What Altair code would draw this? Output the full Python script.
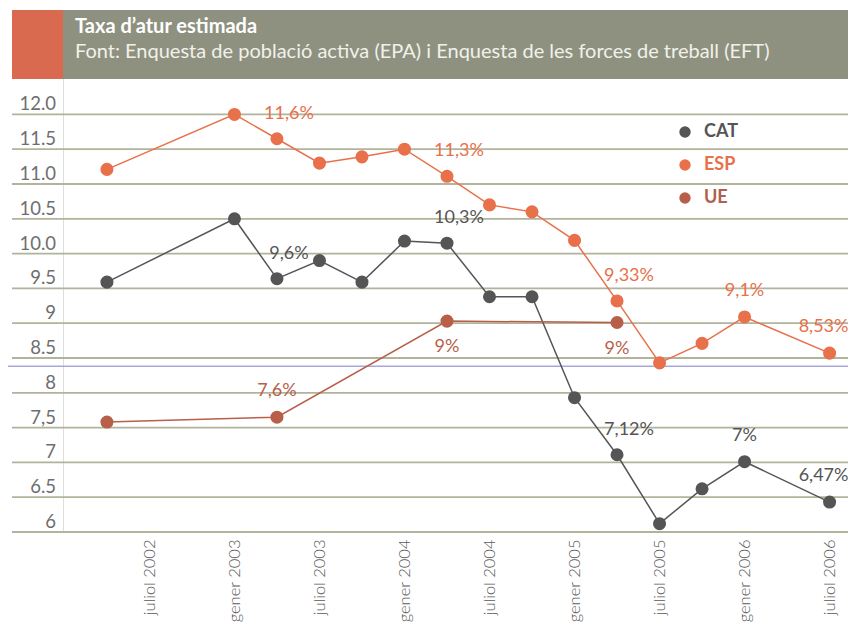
import altair as alt
import pandas as pd

# ---------------- data (x = months since January 2002) ----------------
months = [3, 12, 15, 18, 21, 24, 27, 30, 33, 36, 39, 42, 45, 48, 54]
cat_values = [9.59, 10.50, 9.64, 9.90, 9.59, 10.18, 10.15, 9.38, 9.38, 7.93, 7.11, 6.12, 6.62, 7.01, 6.43]
esp_values = [11.21, 12.00, 11.65, 11.30, 11.39, 11.50, 11.11, 10.70, 10.60, 10.19, 9.32, 8.43, 8.71, 9.09, 8.57]
ue_months = [3, 15, 27, 39]
ue_values = [7.58, 7.65, 9.03, 9.01]

series_names = ["CAT", "ESP", "UE"]
series_colors = ["#555555", "#e8704a", "#b85f4a"]

x_tick_months = [6, 12, 18, 24, 30, 36, 42, 48, 54]
x_tick_labels = ["juliol 2002", "gener 2003", "juliol 2003", "gener 2004", "juliol 2004",
                 "gener 2005", "juliol 2005", "gener 2006", "juliol 2006"]

y_grid_values = [12.0, 11.5, 11.0, 10.5, 10.0, 9.5, 9.0, 8.5, 8.0, 7.5, 7.0, 6.5, 6.0]
y_grid_labels = ["12.0", "11.5", "11.0", "10.5", "10.0", "9.5", "9", "8.5", "8", "7,5", "7", "6.5", "6"]

stray_line_value = [8.38]

labels_above_right = [("ESP", 15, "11,6%"), ("ESP", 27, "11,3%"), ("CAT", 15, "9,6%"),
                      ("CAT", 27, "10,3%"), ("ESP", 39, "9,33%"), ("CAT", 39, "7,12%")]
labels_above = [("ESP", 48, "9,1%"), ("CAT", 48, "7%"), ("UE", 15, "7,6%")]
labels_above_left = [("ESP", 54, "8,53%"), ("CAT", 54, "6,47%")]
labels_below = [("UE", 27, "9%"), ("UE", 39, "9%")]

title_text = "Taxa d’atur estimada"
subtitle_text = "Font: Enquesta de població activa (EPA) i Enquesta de les forces de treball (EFT)"

# ---------------- tables ----------------
rows = []
for m, v in zip(months, cat_values):
    rows.append({"series": "CAT", "month": m, "value": v})
for m, v in zip(months, esp_values):
    rows.append({"series": "ESP", "month": m, "value": v})
for m, v in zip(ue_months, ue_values):
    rows.append({"series": "UE", "month": m, "value": v})
df = pd.DataFrame(rows)
lookup = {(r["series"], r["month"]): r["value"] for r in rows}


def label_df(items):
    return pd.DataFrame([{"series": s, "month": m, "value": lookup[(s, m)], "text": t}
                         for s, m, t in items])


grid_df = pd.DataFrame({"value": y_grid_values, "label": y_grid_labels})
stray_df = pd.DataFrame({"value": stray_line_value})
one = pd.DataFrame({"k": [0]})

W, H = 785, 522
FONT = "Lato"

xscale = alt.Scale(domain=[-0.1, 55.3], nice=False, zero=False)
yscale = alt.Scale(domain=[6, 13.5], nice=False, zero=False)

months_js = "[" + ",".join(str(m) for m in x_tick_months) + "]"
labels_js = "[" + ",".join("'" + t + "'" for t in x_tick_labels) + "]"

x_axis = alt.Axis(values=x_tick_months, labelExpr=f"{labels_js}[indexof({months_js}, datum.value)]",
                  labelAngle=-90, labelFont=FONT, labelFontSize=16.5, labelFontWeight=300,
                  labelColor="#5a5a5a", labelPadding=7, ticks=False, domain=False,
                  grid=True, gridColor="#ffffff", gridWidth=1.5, title=None,
                  labelOverlap=False, labelFlush=False, labelBound=False)

X = alt.X("month:Q", scale=xscale, axis=x_axis)
Y = alt.Y("value:Q", scale=yscale, axis=None)
cscale = alt.Scale(domain=series_names, range=series_colors)
color_nolegend = alt.Color("series:N", scale=cscale, legend=None)

label_color_expr = ("datum.value === 'ESP' ? '#e8704a' : (datum.value === 'UE' ? '#b0604c' : '#555555')")
color_legend = alt.Color(
    "series:N", scale=cscale,
    legend=alt.Legend(orient="none", legendX=613, legendY=113, title=None, symbolType="circle",
                      symbolSize=130, symbolOpacity=1, symbolStrokeWidth=0,
                      labelFont=FONT, labelFontSize=18, labelFontWeight="bold",
                      labelColor=alt.ExprRef(label_color_expr),
                      rowPadding=15, padding=0, labelOffset=10))

grid = alt.Chart(grid_df).mark_rule(color="#b1b49b", strokeWidth=1.8).encode(
    y=Y, x=alt.value(-51), x2=alt.value(W))

ylabels = alt.Chart(grid_df).mark_text(align="right", baseline="alphabetic", dy=-4,
                                       font=FONT, fontSize=18.5, color="#6e6e6e").encode(
    y=Y, x=alt.value(-7), text="label:N")

stray = alt.Chart(stray_df).mark_rule(color="#a7a7da", strokeWidth=1.5).encode(
    y=Y, x=alt.value(-55), x2=alt.value(W))

lines = alt.Chart(df).mark_line(strokeWidth=1.5).encode(x=X, y=Y, color=color_nolegend)
points = alt.Chart(df).mark_circle(size=170, opacity=1).encode(x=X, y=Y, color=color_legend)


def text_layer(items, dx, dy):
    return alt.Chart(label_df(items)).mark_text(dx=dx, dy=dy, font=FONT, fontSize=18,
                                                 align="center", baseline="middle").encode(
        x=X, y=Y, text="text:N", color=color_nolegend)


t1 = text_layer(labels_above_right, 12, -25)
t2 = text_layer(labels_above, 0, -26)
t3 = text_layer(labels_above_left, -6, -26)
t4 = text_layer(labels_below, 0, 26)

banner = alt.Chart(one).mark_rect(color="#8e9180").encode(
    x=alt.value(0), x2=alt.value(W), y=alt.value(0), y2=alt.value(69))
red = alt.Chart(one).mark_rect(color="#d96a50").encode(
    x=alt.value(-51), x2=alt.value(0), y=alt.value(0), y2=alt.value(69))
title = alt.Chart(one).mark_text(align="left", baseline="alphabetic", font=FONT, fontSize=20,
                                 fontWeight="bold", color="#ffffff").encode(
    x=alt.value(12), y=alt.value(23), text=alt.value(title_text))
subtitle = alt.Chart(one).mark_text(align="left", baseline="alphabetic", font=FONT, fontSize=20,
                                    color="#f1f1ea").encode(
    x=alt.value(12), y=alt.value(48), text=alt.value(subtitle_text))

chart = alt.layer(grid, ylabels, stray, lines, points, t1, t2, t3, t4,
                  banner, red, title, subtitle).resolve_legend(color="independent").properties(
    width=W, height=H,
    autosize=alt.AutoSizeParams(type="none"),
    padding={"left": 55, "top": 2, "right": 0, "bottom": 94},
).configure_view(fill="#e0e4df", stroke=None).configure(background="#ffffff")

chart.save("out.html", embed_options={"renderer": "svg", "actions": False})
